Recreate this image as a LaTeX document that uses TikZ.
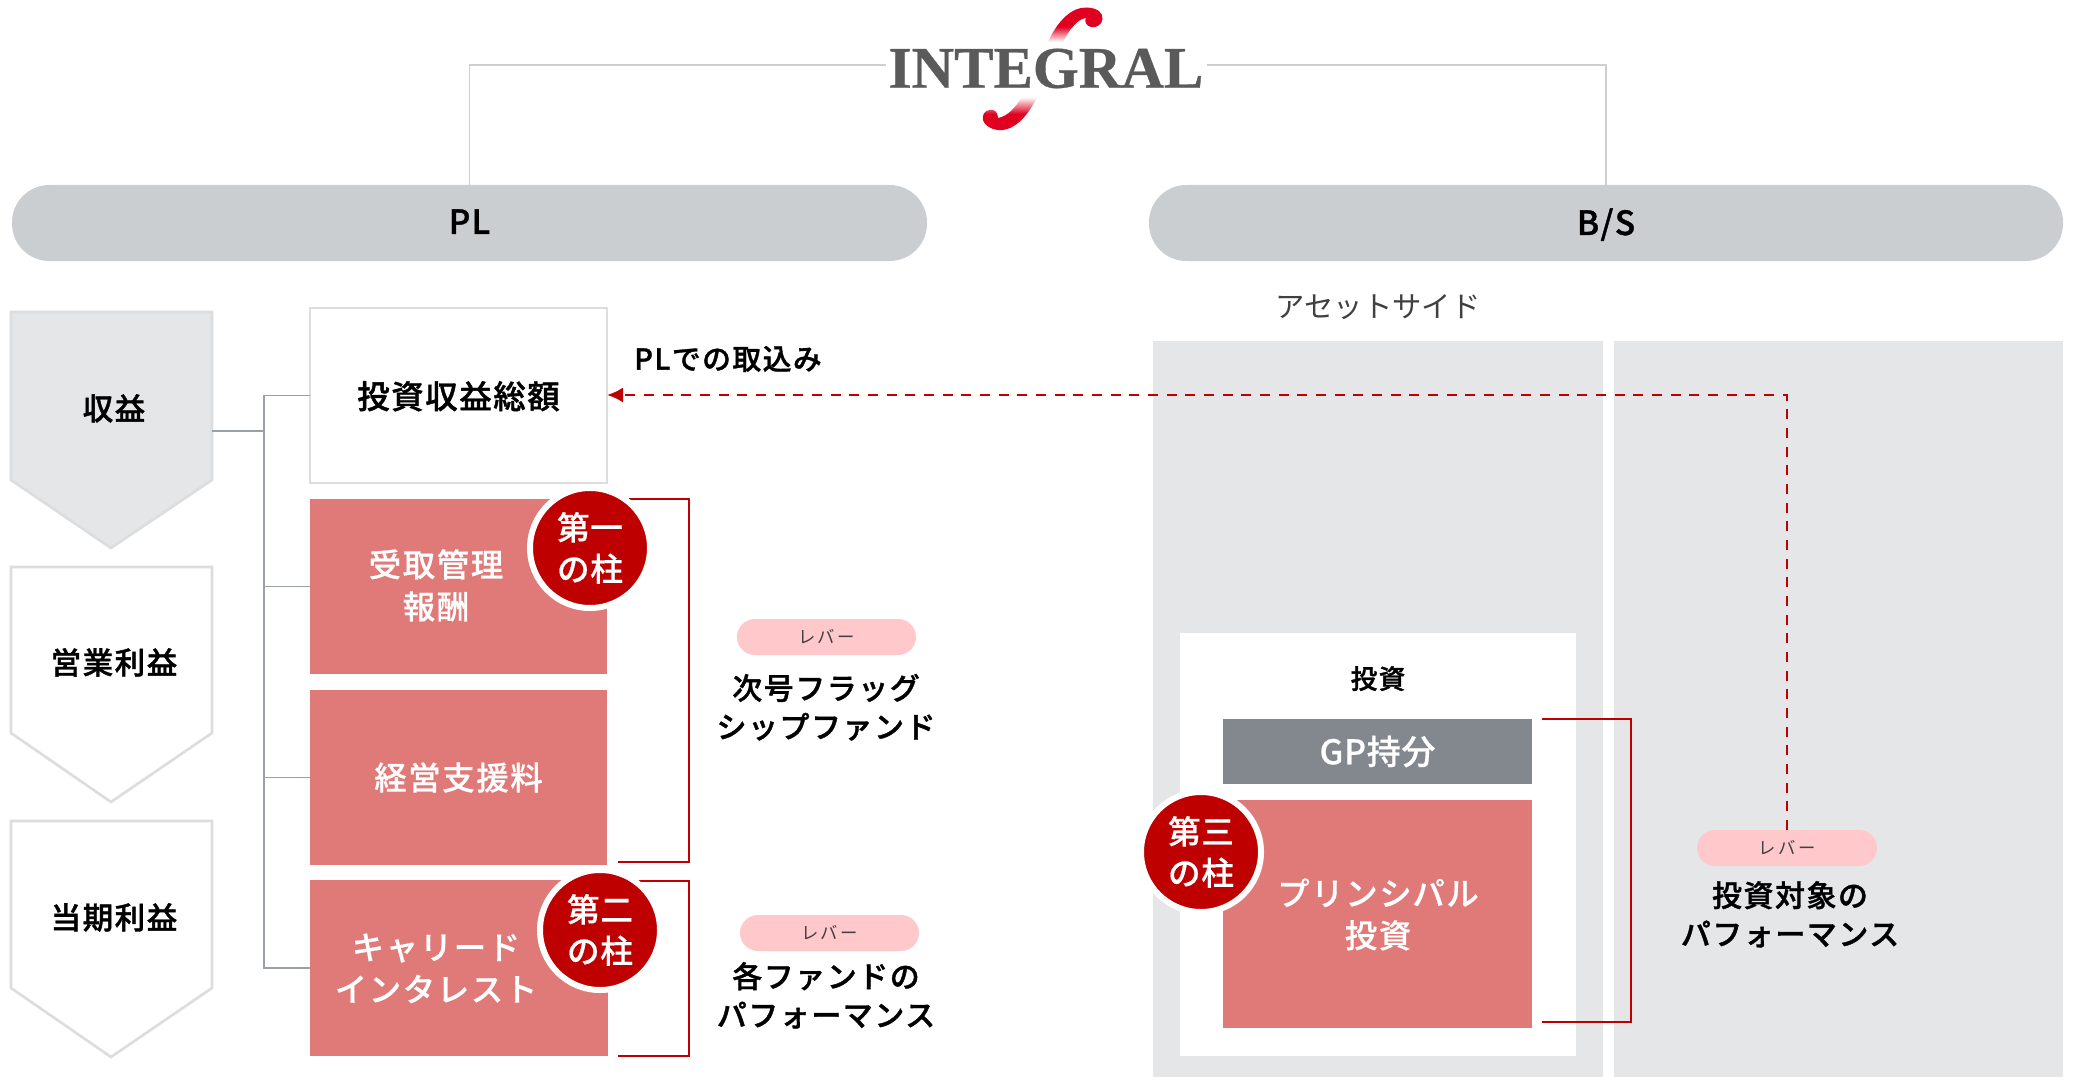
\documentclass[tikz,border=0pt]{standalone}
\usepackage{fontspec}
\usetikzlibrary{arrows.meta}
\setmainfont{Noto Sans CJK JP}
\newfontfamily\jpblk[LetterSpace=5,FakeBold=1.2]{Noto Sans CJK JP Medium}
\newfontfamily\jpwht[LetterSpace=5,FakeBold=0.5]{Noto Sans CJK JP Medium}
\newfontfamily\jpwhtsm[LetterSpace=2,FakeBold=0.5]{Noto Sans CJK JP Medium}
\newfontfamily\jphead[LetterSpace=4,FakeBold=1.2]{Noto Sans CJK JP Medium}
\newfontfamily\jpreg[LetterSpace=14]{Noto Sans CJK JP}
\newfontfamily\logofont[FakeBold=0.6]{Liberation Serif Bold}
\definecolor{pillgray}{HTML}{CBCED1}
\definecolor{bandgray}{HTML}{E5E6E8}
\definecolor{edgegray}{HTML}{DCDDDE}
\definecolor{linegray}{HTML}{9AA0A6}
\definecolor{toplinegray}{HTML}{CFCFCF}
\definecolor{gpgray}{HTML}{82888E}
\definecolor{salmon}{HTML}{DF7A78}
\definecolor{deepred}{HTML}{BF0000}
\definecolor{pinkpill}{HTML}{FFC9CB}
\definecolor{logogray}{HTML}{5A5A5A}
\definecolor{logored}{HTML}{E00020}
\pgfdeclareverticalshading{swooshup}{100bp}{color(0bp)=(white); color(25bp)=(white); color(47bp)=(logored); color(100bp)=(logored)}
\pgfdeclareverticalshading{swooshdown}{100bp}{color(0bp)=(logored); color(50bp)=(logored); color(75bp)=(white); color(100bp)=(white)}
\newcommand{\fs}[1]{\fontsize{#1}{#1}\selectfont}
% \bx[style]{name}{x0}{y0}{x1}{y1}{text}
\newcommand{\bx}[7][]{%
  \pgfmathsetmacro{\bxw}{(#5-#3)*0.75}%
  \pgfmathsetmacro{\bxh}{(#6-#4)*0.75}%
  \pgfmathsetmacro{\bxcx}{(#3+#5)/2}%
  \pgfmathsetmacro{\bxcy}{(#4+#6)/2}%
  \node[rectnode,minimum width=\bxw pt,minimum height=\bxh pt,#1] (#2) at (\bxcx,\bxcy) {#7};}
\tikzset{
  rectnode/.style={inner sep=0pt,outer sep=0pt},
  salmonbox/.style={fill=salmon},
  headpill/.style={fill=pillgray,rounded corners=28pt,font=\jphead\fs{25},text depth=2pt},
  band/.style={fill=bandgray},
  blacklabel/.style={font=\jpblk\fs{22.9},align=center,text=black,inner sep=0pt,yshift=-0.3pt},
  whitelabel/.style={font=\jpwht\fontsize{24.3}{31.5}\selectfont,align=center,text=white,inner sep=0pt,yshift=-0.3pt},
  pillar/.style={circle,fill=deepred,draw=white,line width=4.5pt,minimum size=90pt,inner sep=0pt,align=center,text=white,font=\jpwhtsm\fontsize{24.5}{31}\selectfont},
  leverpill/.style={fill=pinkpill,rounded corners=13.5pt,font=\jpreg\fs{13},text=black!75},
  leverlabel/.style={font=\jpblk\fontsize{22.5}{29}\selectfont,align=center,text=black,inner sep=0pt,yshift=-0.2pt},
  chevfill/.style={fill=bandgray,draw=edgegray,line width=2pt,line join=miter},
  chevopen/.style={fill=white,draw=edgegray,line width=2pt,line join=miter},
  treeline/.style={draw=linegray,line width=1.2pt},
  topline/.style={draw=toplinegray,line width=1.1pt},
  bracket/.style={draw=deepred,line width=2.2pt},
  dashedlink/.style={draw=deepred,line width=2.2pt,dash pattern=on 7.5pt off 6.5pt,-{Latex[length=12pt,width=11.5pt]}},
}
\begin{document}
\begin{tikzpicture}[x=0.75pt,y=-0.75pt]
\useasboundingbox (0,0) rectangle (2073,1077);
% logo
\shade[shading=swooshup] (1048,42) .. controls (1058,20) and (1072,7) .. (1087,7.5) .. controls (1098,8) and (1103,13) .. (1102.5,19) .. controls (1102,25) and (1096,28) .. (1091,27) .. controls (1086,26) and (1084,21) .. (1086,18) .. controls (1078,19) and (1070,28) .. (1063,42) -- cycle;
\shade[shading=swooshdown] (1022,97) .. controls (1015,108) and (1008,116) .. (998,118) .. controls (998,112) and (994,109) .. (990,110) .. controls (984,110) and (982,116) .. (983,120) .. controls (985,127) and (995,131) .. (1003,130) .. controls (1018,128) and (1030,112) .. (1037,97) -- cycle;
\node[inner sep=0pt,outer sep=0pt] (logo) at (1046,68.5) {\resizebox{236pt}{!}{\logofont\color{logogray}INTEGRAL}};
\coordinate (logoL) at (886,65);
\coordinate (logoR) at (1207,65);
% header pills
\bx[headpill]{pl}{12}{185}{927}{261}{PL}
\bx[headpill]{bs}{1149}{185}{2063}{261}{B/S}
\draw[topline] (logoL) -| (pl.north);
\draw[topline] (logoR) -| (bs.north);
% bands
\node[font=\fs{22},text=black!75,inner sep=0pt] (asset) at (1378,307) {アセットサイド};
\bx[band]{bandA}{1153}{341}{1603}{1077}{}
\bx[band]{bandB}{1614}{341}{2063}{1077}{}
% chevrons
\draw[chevfill] (11,312) -- (212,312) -- (212,480) -- (111,548) -- (11,480) -- cycle;
\draw[chevopen] (11,567) -- (212,567) -- (212,733) -- (111,802) -- (11,733) -- cycle;
\draw[chevopen] (11,821) -- (212,821) -- (212,988) -- (111,1057) -- (11,988) -- cycle;
\node[blacklabel] (revenue) at (114,408) {収益};
\node[blacklabel] (oprofit) at (114,662) {営業利益};
\node[blacklabel] (nprofit) at (114,917) {当期利益};
\coordinate (chevout) at (212,431);
% left boxes
\bx[draw=edgegray,fill=white,line width=2pt,font=\jpblk\fs{24.3},text depth=1pt]{gross}{310}{308}{607}{483}{投資収益総額}
\bx[salmonbox]{fee}{310}{499}{607}{674}{}
\bx[salmonbox,font=\jpwht\fs{24.3},text=white]{support}{310}{690}{607}{865}{経営支援料}
\bx[salmonbox]{carry}{310}{880}{608}{1056}{}
\node[whitelabel] (feetxt) at (436,585) {受取管理\\報酬};
\node[whitelabel] (carrytxt) at (436,968) {キャリード\\インタレスト};
% tree
\coordinate (trunk) at (264,431);
\draw[treeline] (chevout) -- (trunk);
\draw[treeline] (gross.west) -| (trunk);
\draw[treeline] (trunk) |- (carry.west);
\draw[treeline] (trunk |- fee.west) -- (fee.west);
\draw[treeline] (trunk |- support.west) -- (support.west);
% brackets
\coordinate (b1a) at (629,499); \coordinate (b1b) at (618,862); \coordinate (b1c) at (689,499);
\draw[bracket] (b1a) -- (b1c) |- (b1b);
\coordinate (b2a) at (638,881); \coordinate (b2b) at (618,1056); \coordinate (b2c) at (689,881);
\draw[bracket] (b2a) -- (b2c) |- (b2b);
% pillars
\node[pillar] (p1) at (590,548) {第一\\の柱};
\node[pillar] (p2) at (600,930) {第二\\の柱};
% lever labels left
\bx[leverpill]{lev1}{737}{619}{916}{655}{レバー}
\bx[leverpill]{lev2}{740}{915}{919}{951}{レバー}
\node[leverlabel] (lev1t) at (826,707) {次号フラッグ\\シップファンド};
\node[leverlabel] (lev2t) at (826,995) {各ファンドの\\パフォーマンス};
\node[font=\jpblk\fs{21.6},inner sep=0pt] (intake) at (728,359) {PLでの取込み};
% investment box
\bx[fill=white]{invest}{1180}{633}{1576}{1056}{}
\node[font=\jpblk\fs{20},inner sep=0pt,yshift=-1.2pt] (investt) at (1378,677) {投資};
\bx[fill=gpgray,text=white,font=\jpwhtsm\fs{25.5}]{gp}{1223}{719}{1532}{784}{GP持分}
\bx[salmonbox]{principal}{1223}{800}{1532}{1028}{}
\node[whitelabel] (principalt) at (1378,914) {プリンシパル\\投資};
\coordinate (b3a) at (1542,719); \coordinate (b3b) at (1542,1022); \coordinate (b3c) at (1631,719);
\draw[bracket] (b3a) -- (b3c) |- (b3b);
\node[pillar] (p3) at (1201,852) {第三\\の柱};
% lever right
\bx[leverpill]{lev3}{1697}{830}{1877}{866}{レバー}
\node[leverlabel] (lev3t) at (1790,914) {投資対象の\\パフォーマンス};
\draw[dashedlink] (lev3.north) |- (gross.east |- 0,395);
\end{tikzpicture}
\end{document}
